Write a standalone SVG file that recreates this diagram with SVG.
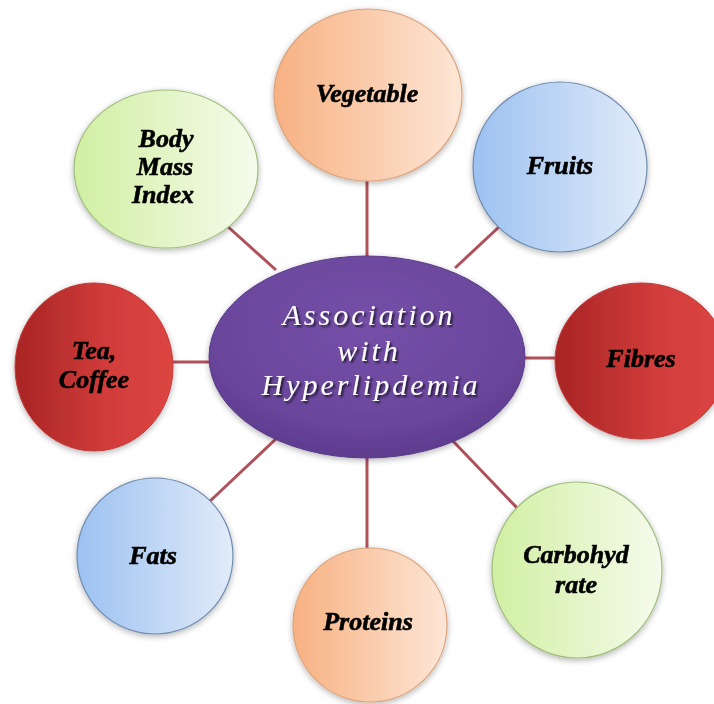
<svg xmlns="http://www.w3.org/2000/svg" width="714" height="704" viewBox="0 0 714 704">
<defs>
<linearGradient id="gOrange" x1="0" y1="0" x2="1" y2="0"><stop offset="0" stop-color="#f7b182"/><stop offset="1" stop-color="#fde6d6"/></linearGradient>
<linearGradient id="gBlue" x1="0" y1="0" x2="1" y2="0"><stop offset="0" stop-color="#9cc1f1"/><stop offset="1" stop-color="#e1ebf9"/></linearGradient>
<linearGradient id="gRed" x1="0" y1="0" x2="1" y2="0"><stop offset="0" stop-color="#a82424"/><stop offset="0.6" stop-color="#d23d3b"/><stop offset="1" stop-color="#dc4541"/></linearGradient>
<linearGradient id="gGreen" x1="0" y1="0" x2="1" y2="0"><stop offset="0" stop-color="#d1efa2"/><stop offset="1" stop-color="#f5fbec"/></linearGradient>
<radialGradient id="gPurple" cx="0.5" cy="0.35" r="0.7"><stop offset="0" stop-color="#7550a8"/><stop offset="0.7" stop-color="#6a469c"/><stop offset="1" stop-color="#5a3889"/></radialGradient>
<filter id="sh" x="-20%" y="-20%" width="140%" height="140%"><feGaussianBlur in="SourceAlpha" stdDeviation="3"/><feOffset dx="0" dy="2"/><feComponentTransfer><feFuncA type="linear" slope="0.3"/></feComponentTransfer><feMerge><feMergeNode/><feMergeNode in="SourceGraphic"/></feMerge></filter>
<filter id="tsh" x="-10%" y="-20%" width="120%" height="140%"><feGaussianBlur in="SourceAlpha" stdDeviation="0.8"/><feOffset dx="1.5" dy="1.5"/><feComponentTransfer><feFuncA type="linear" slope="0.7"/></feComponentTransfer><feMerge><feMergeNode/><feMergeNode in="SourceGraphic"/></feMerge></filter>
</defs>
<style>
.lbl{font-family:"Liberation Serif","Times New Roman",serif;font-weight:bold;font-style:italic;font-size:26px;fill:#000;text-anchor:middle;stroke:#000;stroke-width:0.6}
.ctr{font-family:"Liberation Serif","Times New Roman",serif;font-style:italic;font-size:30px;fill:#fff;text-anchor:middle;letter-spacing:3px}
.conn{stroke:#b0505a;stroke-width:3;fill:none}
.orange{fill:url(#gOrange);stroke:#dba27a;stroke-width:1.2}
.blue{fill:url(#gBlue);stroke:#6d8aae;stroke-width:1.2}
.red{fill:url(#gRed);stroke:#c23a38;stroke-width:1}
.green{fill:url(#gGreen);stroke:#9fbd7c;stroke-width:1.2}
</style>
<rect width="714" height="704" fill="#ffffff"/>
<g id="connectors">
<line class="conn" x1="367" y1="178" x2="367" y2="258"/>
<line class="conn" x1="500" y1="226" x2="455" y2="268"/>
<line class="conn" x1="522" y1="358" x2="560" y2="358"/>
<line class="conn" x1="452" y1="440" x2="520" y2="511"/>
<line class="conn" x1="367" y1="455" x2="367" y2="550"/>
<line class="conn" x1="278" y1="437" x2="208" y2="503"/>
<line class="conn" x1="170" y1="362" x2="212" y2="362"/>
<line class="conn" x1="226" y1="225" x2="276" y2="270"/>
</g>
<g id="vegetable" filter="url(#sh)">
<ellipse class="orange" cx="368" cy="95" rx="94" ry="86"/>
<text class="lbl" x="367" y="102">Vegetable</text>
</g>
<g id="fruits" filter="url(#sh)">
<ellipse class="blue" cx="560" cy="167" rx="87" ry="85"/>
<text class="lbl" x="560" y="174">Fruits</text>
</g>
<g id="fibres" filter="url(#sh)">
<ellipse class="red" cx="641" cy="361" rx="86" ry="78"/>
<text class="lbl" x="641" y="367">Fibres</text>
</g>
<g id="carbohydrate" filter="url(#sh)">
<ellipse class="green" cx="577" cy="570" rx="85" ry="88"/>
<text class="lbl" x="576" y="563">Carbohyd</text>
<text class="lbl" x="576" y="593">rate</text>
</g>
<g id="proteins" filter="url(#sh)">
<ellipse class="orange" cx="370" cy="625" rx="77" ry="77"/>
<text class="lbl" x="368" y="630">Proteins</text>
</g>
<g id="fats" filter="url(#sh)">
<ellipse class="blue" cx="155" cy="556" rx="78" ry="78"/>
<text class="lbl" x="153" y="564">Fats</text>
</g>
<g id="tea-coffee" filter="url(#sh)">
<ellipse class="red" cx="94" cy="367" rx="79" ry="84"/>
<text class="lbl" x="94" y="359">Tea,</text>
<text class="lbl" x="94" y="388">Coffee</text>
</g>
<g id="body-mass-index" filter="url(#sh)">
<ellipse class="green" cx="166" cy="169" rx="92" ry="79"/>
<text class="lbl" x="166" y="147">Body</text>
<text class="lbl" x="165" y="175">Mass</text>
<text class="lbl" x="163" y="203">Index</text>
</g>
<g id="center" filter="url(#sh)">
<ellipse cx="367" cy="357" rx="158" ry="101" fill="url(#gPurple)" stroke="#5a3a88" stroke-width="1"/>
<g filter="url(#tsh)">
<text class="ctr" x="369" y="325">Association</text>
<text class="ctr" x="369" y="361">with</text>
<text class="ctr" x="371" y="395">Hyperlipdemia</text>
</g>
</g>
</svg>
